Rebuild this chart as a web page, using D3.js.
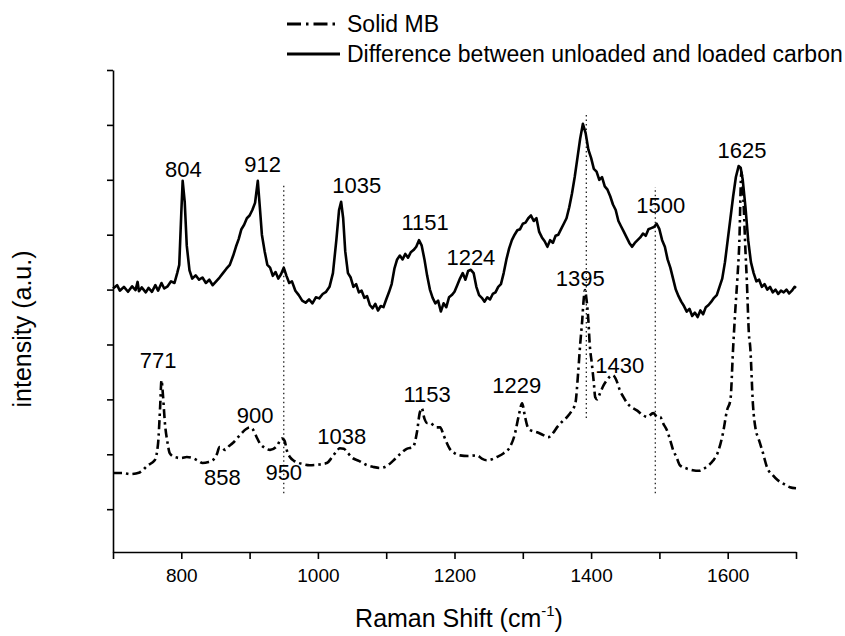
<!DOCTYPE html>
<html>
<head>
<meta charset="utf-8">
<script src="https://cdn.jsdelivr.net/npm/d3@7"></script>
<style>
  body { margin: 0; background: #fff; }
  svg { display: block; font-family: 'Liberation Sans', Arial, sans-serif; }
</style>
</head>
<body>
<svg id="canvas" width="845" height="636"></svg>
<script>
// ************************************************************************************** //
// Data

var xTicks = [700, 800, 900, 1000, 1100, 1200, 1300, 1400, 1500, 1600, 1700];
var xTickLabels = [800, 1000, 1200, 1400, 1600];
var yTicks = [0, 1, 2, 3, 4, 5, 6, 7, 8];

var legendNames = ['Solid MB', 'Difference between unloaded and loaded carbon'];

// difference between unloaded and loaded carbon (solid, upper trace)
var diffPoints = [
  [700,4.02],[706,4.08],[710,3.98],[716,4.05],[722,3.96],[728,4.06],[733,3.99],[736,4.14],[738,3.97],[742,4.04],
  [748,3.95],[752,4.03],[757,3.96],[762,4.08],[766,3.98],[771,4.12],[775,4.02],[780,4.06],[785,4.15],[790,4.12],
  [794,4.30],[797,4.45],[800,5.40],[802,5.98],[805,5.60],[808,4.80],[812,4.35],[816,4.20],[821,4.26],[826,4.18],
  [831,4.22],[836,4.12],[841,4.18],[846,4.08],[851,4.15],[856,4.22],[861,4.30],[866,4.38],[871,4.45],[876,4.62],
  [880,4.78],[884,4.92],[888,5.10],[892,5.18],[896,5.30],[900,5.35],[904,5.45],[908,5.58],[912,5.98],[915,5.50],
  [918,5.00],[922,4.70],[926,4.45],[930,4.40],[934,4.25],[938,4.32],[942,4.20],[946,4.28],[950,4.40],[954,4.25],
  [958,4.12],[962,4.15],[967,3.98],[972,3.90],[977,3.80],[982,3.76],[987,3.82],[992,3.75],[997,3.86],[1002,3.84],
  [1007,3.92],[1012,3.96],[1017,4.05],[1022,4.30],[1027,4.90],[1031,5.45],[1034,5.60],[1037,5.30],[1040,4.70],[1044,4.30],
  [1048,4.22],[1052,4.05],[1056,4.10],[1060,3.95],[1064,3.98],[1068,3.85],[1072,3.88],[1076,3.72],[1080,3.66],[1084,3.74],
  [1088,3.62],[1092,3.70],[1096,3.68],[1100,3.82],[1104,3.95],[1108,4.10],[1112,4.38],[1116,4.55],[1120,4.62],[1124,4.55],
  [1128,4.65],[1132,4.58],[1136,4.68],[1140,4.72],[1144,4.78],[1148,4.90],[1152,4.80],[1156,4.55],[1160,4.25],[1164,4.00],
  [1168,3.85],[1172,3.75],[1176,3.80],[1180,3.60],[1184,3.75],[1188,3.68],[1192,3.86],[1196,3.90],[1200,3.96],[1204,4.08],
  [1208,4.20],[1212,4.30],[1216,4.18],[1220,4.34],[1224,4.36],[1228,4.30],[1232,4.05],[1236,3.90],[1240,3.85],[1244,3.78],
  [1248,3.86],[1252,3.82],[1256,3.92],[1260,3.95],[1264,4.05],[1268,4.10],[1272,4.30],[1276,4.55],[1280,4.75],[1284,4.90],
  [1288,5.00],[1292,5.08],[1296,5.10],[1300,5.20],[1304,5.22],[1308,5.30],[1312,5.35],[1316,5.25],[1320,5.30],[1324,5.05],
  [1328,4.95],[1332,4.88],[1336,4.78],[1340,4.90],[1344,4.85],[1348,4.98],[1352,5.00],[1356,5.10],[1360,5.20],[1364,5.30],
  [1368,5.50],[1372,5.75],[1376,6.05],[1380,6.40],[1384,6.75],[1388,7.02],[1392,6.85],[1396,6.55],[1400,6.40],[1404,6.20],
  [1408,6.15],[1412,6.00],[1416,6.05],[1420,5.88],[1424,5.82],[1428,5.70],[1432,5.55],[1436,5.45],[1440,5.25],[1444,5.15],
  [1448,5.05],[1452,4.95],[1456,4.85],[1460,4.78],[1464,4.85],[1468,4.90],[1472,4.95],[1476,5.02],[1480,4.98],[1484,5.10],
  [1488,5.12],[1492,5.14],[1496,5.20],[1500,5.10],[1504,4.90],[1508,4.78],[1512,4.55],[1516,4.40],[1520,4.20],[1524,4.00],
  [1528,3.88],[1532,3.78],[1536,3.70],[1540,3.60],[1544,3.65],[1548,3.52],[1552,3.58],[1556,3.50],[1560,3.62],[1564,3.55],
  [1568,3.68],[1572,3.72],[1576,3.78],[1580,3.85],[1584,3.90],[1588,4.05],[1592,4.20],[1596,4.50],[1600,4.90],[1604,5.30],
  [1608,5.70],[1612,6.05],[1616,6.25],[1619,6.22],[1622,6.00],[1626,5.50],[1630,4.90],[1634,4.50],[1638,4.30],[1642,4.15],
  [1646,4.18],[1650,4.05],[1654,4.10],[1658,4.00],[1662,4.05],[1666,3.95],[1670,4.00],[1674,3.92],[1678,3.98],[1682,3.95],
  [1686,4.00],[1690,3.93],[1694,3.98],[1698,4.05],[1700,4.03]
];

// solid MB (dash-dot, lower trace)
var mbPoints = [
  [700,0.66],[714,0.66],[725,0.64],[739,0.67],[751,0.80],[761,0.89],[766,1.20],[769,1.86],[771,2.35],[773,2.10],
  [776,1.57],[780,1.20],[783,1.02],[790,0.95],[800,0.93],[808,0.95],[817,0.93],[825,0.88],[831,0.84],[840,0.86],
  [846,0.89],[852,1.00],[856,1.13],[860,1.12],[864,1.08],[870,1.15],[875,1.20],[886,1.35],[895,1.46],[900,1.49],
  [905,1.45],[910,1.32],[915,1.20],[922,1.12],[930,1.08],[940,1.15],[947,1.29],[951,1.25],[955,1.05],[959,0.95],
  [965,0.88],[970,0.85],[978,0.82],[988,0.80],[1000,0.81],[1013,0.84],[1021,0.95],[1027,1.05],[1032,1.11],[1038,1.10],
  [1044,1.02],[1051,0.93],[1060,0.88],[1072,0.80],[1081,0.77],[1091,0.75],[1100,0.78],[1110,0.88],[1120,1.00],[1130,1.10],
  [1139,1.13],[1145,1.40],[1149,1.75],[1152,1.84],[1156,1.65],[1160,1.57],[1164,1.57],[1170,1.52],[1174,1.49],[1179,1.49],
  [1184,1.35],[1189,1.20],[1193,1.10],[1200,1.02],[1208,0.98],[1220,0.97],[1233,0.98],[1240,0.92],[1247,0.89],[1255,0.91],
  [1262,0.95],[1272,1.02],[1281,1.13],[1288,1.35],[1294,1.70],[1299,1.93],[1303,1.70],[1307,1.50],[1311,1.44],[1321,1.40],
  [1330,1.35],[1337,1.31],[1345,1.40],[1350,1.49],[1358,1.60],[1365,1.68],[1372,1.80],[1377,1.93],[1381,2.48],[1384,3.00],
  [1387,3.44],[1389,3.80],[1391,3.99],[1393,3.85],[1396,3.44],[1398,3.00],[1401,2.66],[1404,2.30],[1406,2.04],[1409,2.00],
  [1413,2.11],[1418,2.25],[1423,2.35],[1428,2.42],[1432,2.44],[1437,2.35],[1442,2.17],[1447,2.05],[1453,1.93],[1460,1.85],
  [1467,1.80],[1475,1.72],[1482,1.68],[1491,1.75],[1497,1.68],[1501,1.68],[1506,1.55],[1511,1.44],[1516,1.25],[1520,1.08],
  [1525,0.95],[1530,0.80],[1540,0.74],[1549,0.71],[1558,0.70],[1564,0.73],[1572,0.80],[1579,0.89],[1586,1.05],[1593,1.38],
  [1599,1.80],[1604,1.99],[1608,2.95],[1611,3.60],[1614,4.17],[1617,4.85],[1620,6.14],[1623,5.63],[1626,4.70],[1628,4.17],
  [1631,3.20],[1633,2.95],[1637,1.90],[1641,1.45],[1645,1.29],[1651,1.05],[1658,0.75],[1666,0.62],[1673,0.53],[1682,0.46],
  [1691,0.40],[1700,0.38]
];

// dotted guide lines: shift, from, to
var guideShift = [950, 1393, 1494];
var guideFrom = [0.29, 1.66, 0.29];
var guideTo = [5.94, 7.23, 5.87];

// peak annotations: text, shift of label centre, level of label baseline
var peakText  = ['804', '912', '1035', '1151', '1224', '1395', '1500', '1625', '771', '900', '858', '950', '1038', '1153', '1229', '1430'];
var peakShift = [803, 919, 1057, 1157, 1224, 1384, 1502, 1621, 766, 908, 860, 950, 1035, 1160, 1291, 1442];
var peakLevel = [6.05, 6.14, 5.76, 5.08, 4.45, 4.06, 5.39, 6.40, 2.57, 1.57, 0.44, 0.53, 1.18, 1.95, 2.11, 2.48];

// ************************************************************************************** //
// Create

var chart = {};
chart.svg = d3.select('#canvas');
chart.x = d3.scaleLinear().domain([700, 1700]).range([113, 796]);
chart.y = d3.scaleLinear().domain([-0.78, 8]).range([552, 70]);

var lineGen = d3.line().x(d => chart.x(d[0])).y(d => chart.y(d[1]));

// axes
chart.xAxis = chart.svg.append('g').attr('transform', 'translate(0,' + 552 + ')')
  .call(d3.axisBottom(chart.x).tickValues(xTicks).tickSize(7).tickSizeOuter(0).tickPadding(10)
    .tickFormat(d => xTickLabels.indexOf(d) >= 0 ? d : ''));
chart.yAxis = chart.svg.append('g').attr('transform', 'translate(113,0)')
  .call(d3.axisLeft(chart.y).tickValues(yTicks).tickSize(6).tickSizeOuter(0).tickFormat(''));

chart.svg.selectAll('.domain, .tick line').attr('stroke', '#000').attr('stroke-width', 1.6);
chart.xAxis.selectAll('text').attr('font-size', 19).attr('font-family', 'Liberation Sans, Arial, sans-serif').attr('fill', '#000');

// axis titles
var xTitle = chart.svg.append('text').attr('x', 459).attr('y', 627).attr('text-anchor', 'middle')
  .attr('font-size', 25).text('Raman Shift (cm');
xTitle.append('tspan').attr('font-size', 15).attr('dy', -11).text('-1');
xTitle.append('tspan').attr('dy', 11).text(')');

chart.svg.append('text').attr('transform', 'translate(31,329) rotate(-90)').attr('text-anchor', 'middle')
  .attr('font-size', 25).text('intensity (a.u.)');

// dotted guides
chart.svg.append('g').selectAll('line').data(guideShift).enter().append('line')
  .attr('x1', d => chart.x(d)).attr('x2', d => chart.x(d))
  .attr('y1', (d, i) => chart.y(guideFrom[i])).attr('y2', (d, i) => chart.y(guideTo[i]))
  .attr('stroke', '#222').attr('stroke-width', 1.3).attr('stroke-dasharray', '1.5,3');

// traces
chart.svg.append('path').attr('d', lineGen(diffPoints))
  .attr('fill', 'none').attr('stroke', '#000').attr('stroke-width', 2.6).attr('stroke-linejoin', 'round');
chart.svg.append('path').attr('d', lineGen.curve(d3.curveMonotoneX)(mbPoints))
  .attr('fill', 'none').attr('stroke', '#000').attr('stroke-width', 2.6).attr('stroke-dasharray', '9,4,2.5,4');

// peak labels
chart.svg.append('g').selectAll('text').data(peakText).enter().append('text')
  .attr('x', (d, i) => chart.x(peakShift[i])).attr('y', (d, i) => chart.y(peakLevel[i]))
  .attr('text-anchor', 'middle').attr('font-size', 22).text(d => d);

// legend
chart.legend = chart.svg.append('g');
legendNames.forEach(function(name, i){
  var ly = 24 + i*30;
  chart.legend.append('line').attr('x1', 287).attr('x2', 340).attr('y1', ly).attr('y2', ly)
    .attr('stroke', '#000').attr('stroke-width', 2.8).attr('stroke-dasharray', i == 0 ? '14,5,2.5,5' : null);
  chart.legend.append('text').attr('x', 347).attr('y', ly + 8).attr('font-size', 23).text(name);
});
</script>
</body>
</html>
